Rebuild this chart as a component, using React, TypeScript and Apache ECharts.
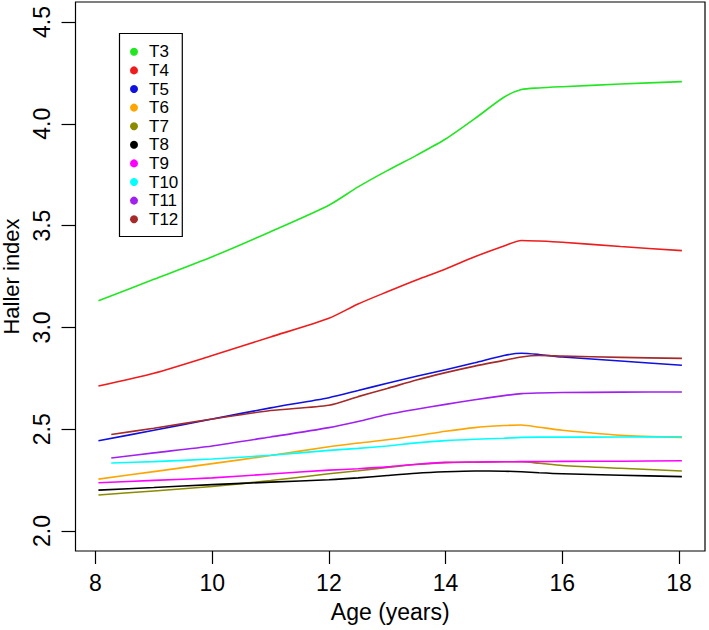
import React, { useEffect, useRef } from "react";
import * as echarts from "echarts";

const agesA = [8.05, 9, 10, 11, 12, 12.5, 13, 13.5, 14, 14.5, 15, 15.3, 15.6, 16, 17, 18.05];
const agesB = [8.27, 9, 10, 11, 12, 12.5, 13, 13.5, 14, 14.5, 15, 15.3, 15.6, 16, 17, 18.05];

const T3 = [3.131, 3.236, 3.347, 3.47, 3.6, 3.69, 3.77, 3.845, 3.925, 4.025, 4.13, 4.168, 4.176, 4.182, 4.195, 4.207];
const T4 = [2.712, 2.775, 2.862, 2.953, 3.045, 3.115, 3.175, 3.233, 3.287, 3.347, 3.4, 3.427, 3.424, 3.418, 3.397, 3.377];
const T5 = [2.443, 2.495, 2.55, 2.605, 2.655, 2.69, 2.726, 2.76, 2.792, 2.826, 2.862, 2.873, 2.867, 2.855, 2.835, 2.814];
const T6 = [2.255, 2.292, 2.331, 2.371, 2.414, 2.432, 2.448, 2.468, 2.49, 2.508, 2.518, 2.521, 2.51, 2.495, 2.47, 2.46];
const T7 = [2.177, 2.197, 2.219, 2.248, 2.281, 2.296, 2.312, 2.327, 2.336, 2.338, 2.34, 2.34, 2.333, 2.322, 2.308, 2.295];
const T8 = [2.201, 2.214, 2.228, 2.24, 2.252, 2.261, 2.273, 2.284, 2.291, 2.295, 2.294, 2.291, 2.286, 2.281, 2.274, 2.267];
const T9 = [2.237, 2.249, 2.261, 2.28, 2.299, 2.306, 2.315, 2.328, 2.337, 2.339, 2.34, 2.341, 2.341, 2.342, 2.343, 2.345];
const T10 = [2.334, 2.341, 2.354, 2.372, 2.396, 2.406, 2.418, 2.433, 2.444, 2.451, 2.456, 2.46, 2.461, 2.461, 2.462, 2.463];
const T11 = [2.359, 2.384, 2.418, 2.462, 2.508, 2.538, 2.572, 2.598, 2.622, 2.645, 2.665, 2.675, 2.678, 2.68, 2.682, 2.683];
const T12 = [2.474, 2.505, 2.55, 2.592, 2.618, 2.66, 2.7, 2.742, 2.778, 2.81, 2.838, 2.855, 2.862, 2.859, 2.853, 2.848];

const seriesNames = ["T3", "T4", "T5", "T6", "T7", "T8", "T9", "T10", "T11", "T12"];
const seriesValues = [T3, T4, T5, T6, T7, T8, T9, T10, T11, T12];
const seriesAges = [agesA, agesA, agesA, agesA, agesA, agesA, agesA, agesB, agesB, agesB];
const seriesColors = ["#22e622", "#ee1c1c", "#1010e0", "#ffa500", "#8b8b00", "#000000", "#ff00ff", "#00ffff", "#a020f0", "#a52a2a"];

const xTicks = [8, 10, 12, 14, 16, 18];
const yTicks = [2.0, 2.5, 3.0, 3.5, 4.0, 4.5];

const FONT = "'Liberation Sans', Arial, Helvetica, sans-serif";

export default function App() {
  const ref = useRef<HTMLDivElement>(null);
  useEffect(() => {
    document.body.style.margin = "0";
    const chart = echarts.init(ref.current!, null, { renderer: "svg" });
    const series = seriesNames.map((name, i) => ({
      name,
      type: "line",
      data: seriesAges[i].map((a, j) => [a, seriesValues[i][j]]),
      showSymbol: false,
      symbol: "circle",
      smooth: 0.25,
      lineStyle: { width: 1.6, color: seriesColors[i] },
      itemStyle: { color: seriesColors[i] },
      z: 3 + i,
    }));
    chart.setOption({
      animation: false,
      backgroundColor: "#ffffff",
      textStyle: { fontFamily: FONT },
      grid: {
        left: 75.5,
        right: 4,
        top: 2,
        bottom: 79,
        containLabel: false,
        outerBoundsMode: "none",
        show: true,
        borderColor: "#000",
        borderWidth: 1.2,
        backgroundColor: "transparent",
      },
      legend: {
        orient: "vertical",
        left: 119.5,
        top: 33.5,
        data: seriesNames,
        icon: "circle",
        itemWidth: 8,
        itemHeight: 8,
        itemGap: 0,
        padding: [9, 4, 8, 10.5],
        borderColor: "#000",
        borderWidth: 1.2,
        backgroundColor: "#fff",
        textStyle: { fontSize: 17, color: "#000", lineHeight: 18.6, fontFamily: FONT, padding: [0, 0, 0, 6] },
        selectedMode: false,
      },
      xAxis: {
        type: "value",
        min: 7.657,
        max: 18.446,
        name: "Age (years)",
        nameLocation: "middle",
        nameGap: 49,
        nameTextStyle: { fontSize: 23, color: "#000", fontFamily: FONT },
        axisLine: { show: false },
        axisTick: { show: true, inside: false, length: 13, customValues: xTicks, lineStyle: { color: "#000", width: 1.2 } },
        axisLabel: { customValues: xTicks, fontSize: 23, color: "#000", margin: 20, fontFamily: FONT },
        splitLine: { show: false },
      },
      yAxis: {
        type: "value",
        min: 1.902,
        max: 4.598,
        name: "Haller index",
        nameLocation: "middle",
        nameGap: 45,
        nameTextStyle: { fontSize: 22, color: "#000", fontFamily: FONT },
        axisLine: { show: false },
        axisTick: { show: true, inside: false, length: 14, customValues: yTicks, lineStyle: { color: "#000", width: 1.2 } },
        axisLabel: {
          customValues: yTicks,
          fontSize: 23,
          color: "#000",
          rotate: 90,
          margin: 22,
          fontFamily: FONT,
          formatter: (v: number) => v.toFixed(1),
        },
        splitLine: { show: false },
      },
      series,
    });
    return () => chart.dispose();
  }, []);
  return <div ref={ref} style={{ position: "absolute", left: 0, top: 0, width: 709, height: 630 }} />;
}
